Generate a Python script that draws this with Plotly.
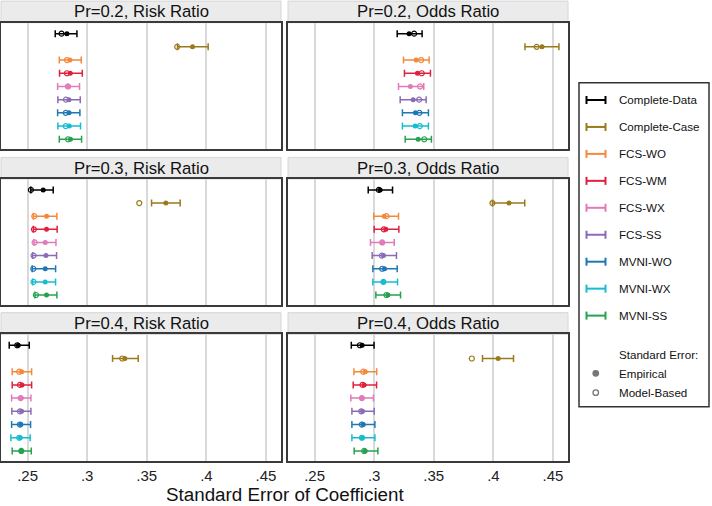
import plotly.graph_objects as go
from plotly.subplots import make_subplots

W, H = 712, 506

methods = ["Complete-Data", "Complete-Case", "FCS-WO", "FCS-WM", "FCS-WX",
           "FCS-SS", "MVNI-WO", "MVNI-WX", "MVNI-SS"]
colors = ["#000000", "#9b7a1c", "#f4893b", "#e0203f", "#e17ab8",
          "#8a6bb5", "#1f77b4", "#17bcd0", "#27a150"]

panel_titles = ["Pr=0.2, Risk Ratio", "Pr=0.2, Odds Ratio",
                "Pr=0.3, Risk Ratio", "Pr=0.3, Odds Ratio",
                "Pr=0.4, Risk Ratio", "Pr=0.4, Odds Ratio"]

tick_vals = [0.25, 0.30, 0.35, 0.40, 0.45]
tick_text = [".25", ".3", ".35", ".4", ".45"]

# empirical SE, MC interval (lo, hi), model-based SE -- one set per panel
rr02_emp = [.2830, .3884, .2855, .2858, .2843, .2847, .2848, .2850, .2860]
rr02_lo = [.2732, .3758, .2766, .2768, .2752, .2754, .2752, .2754, .2766]
rr02_hi = [.2914, .4015, .2950, .2959, .2936, .2942, .2939, .2944, .2953]
rr02_mod = [.2785, .3755, .2830, .2830, .2838, .2822, .2820, .2820, .2840]

or02_emp = [.3293, .4408, .3352, .3363, .3304, .3327, .3346, .3344, .3369]
or02_lo = [.3193, .4265, .3246, .3254, .3204, .3218, .3237, .3237, .3260]
or02_hi = [.3402, .4550, .3461, .3472, .3416, .3436, .3455, .3455, .3480]
or02_mod = [.3335, .4363, .3394, .3399, .3385, .3377, .3380, .3383, .3420]

rr03_emp = [.2631, .3660, .2659, .2659, .2648, .2654, .2648, .2648, .2659]
rr03_lo = [.2527, .3540, .2548, .2548, .2553, .2542, .2539, .2542, .2562]
rr03_hi = [.2715, .3780, .2746, .2748, .2738, .2743, .2735, .2735, .2746]
rr03_mod = [.2528, .3437, .2556, .2553, .2559, .2550, .2548, .2550, .2570]

or03_emp = [.3050, .4131, .3084, .3098, .3067, .3078, .3087, .3075, .3115]
or03_lo = [.2950, .3992, .2997, .3000, .2969, .2983, .2989, .2989, .3014]
or03_hi = [.3154, .4263, .3204, .3207, .3168, .3187, .3193, .3196, .3221]
or03_mod = [.3039, .3992, .3103, .3081, .3067, .3064, .3067, .3078, .3103]

rr04_emp = [.2422, .3316, .2450, .2453, .2447, .2450, .2444, .2438, .2450]
rr04_lo = [.2346, .3213, .2371, .2371, .2366, .2368, .2366, .2360, .2371]
rr04_hi = [.2514, .3428, .2534, .2534, .2528, .2528, .2525, .2522, .2531]
rr04_mod = [.2413, .3294, .2430, .2436, .2441, .2436, .2436, .2430, .2447]

or04_emp = [.2899, .4040, .2925, .2916, .2897, .2902, .2908, .2900, .2925]
or04_lo = [.2808, .3909, .2830, .2824, .2804, .2813, .2813, .2813, .2832]
or04_hi = [.2999, .4169, .3021, .3020, .2994, .3000, .3006, .3006, .3031]
or04_mod = [.2880, .3819, .2908, .2902, .2897, .2891, .2897, .2897, .2916]

panels = [
    (rr02_emp, rr02_lo, rr02_hi, rr02_mod),
    (or02_emp, or02_lo, or02_hi, or02_mod),
    (rr03_emp, rr03_lo, rr03_hi, rr03_mod),
    (or03_emp, or03_lo, or03_hi, or03_mod),
    (rr04_emp, rr04_lo, rr04_hi, rr04_mod),
    (or04_emp, or04_lo, or04_hi, or04_mod),
]

FONT = "Liberation Sans, Arial, Helvetica, sans-serif"

# pixel layout of panels
col_px = [(1, 281), (288, 568)]
row_px = [(22.7, 149.3), (179, 305), (334.3, 461)]
strip_h = 21.6


def px_x(x):
    return x / W


def px_y(y):
    return 1 - y / H


fig = make_subplots(rows=3, cols=2)

ypos = list(range(1, len(methods) + 1))

for p, (emp, lo, hi, mod) in enumerate(panels):
    r, c = p // 2 + 1, p % 2 + 1
    for i, m in enumerate(methods):
        # interval + empirical SE (filled dot)
        fig.add_trace(go.Scatter(
            x=[emp[i]], y=[ypos[i]], mode="markers",
            marker=dict(color=colors[i], size=5, symbol="circle"),
            error_x=dict(type="data", symmetric=False,
                         array=[hi[i] - emp[i]], arrayminus=[emp[i] - lo[i]],
                         color=colors[i], thickness=1.5, width=3.5),
            showlegend=False, hoverinfo="skip"), row=r, col=c)
        # model-based SE (hollow dot)
        fig.add_trace(go.Scatter(
            x=[mod[i]], y=[ypos[i]], mode="markers",
            marker=dict(color=colors[i], size=5, symbol="circle-open",
                        line=dict(width=1.2, color=colors[i])),
            showlegend=False, hoverinfo="skip"), row=r, col=c)

shapes = []
annotations = []
for p in range(6):
    r, c = p // 2, p % 2
    n = p + 1
    x0, x1 = col_px[c]
    y0, y1 = row_px[r]
    xa = "xaxis" if n == 1 else f"xaxis{n}"
    ya = "yaxis" if n == 1 else f"yaxis{n}"
    fig.layout[xa].update(
        domain=[px_x(x0), px_x(x1)], range=[0.2277, 0.4626],
        tickvals=tick_vals, ticktext=tick_text, showticklabels=(r == 2),
        showgrid=True, gridcolor="#d9d9d9", gridwidth=1.5, zeroline=False,
        showline=True, linecolor="#3a3a3a", linewidth=1.5, mirror=True,
        ticks="", tickfont=dict(family=FONT, size=15, color="#222"))
    fig.layout[ya].update(
        domain=[px_y(y1), px_y(y0)], range=[9.76, 0.17],
        showticklabels=False, showgrid=False, zeroline=False,
        showline=True, linecolor="#3a3a3a", linewidth=1.5, mirror=True, ticks="")
    # strip header
    shapes.append(dict(type="rect", xref="paper", yref="paper",
                       x0=px_x(x0), x1=px_x(x1), y0=px_y(y0), y1=px_y(y0 - strip_h),
                       fillcolor="#ebebeb", line=dict(color="#d6d6d6", width=1), layer="below"))
    annotations.append(dict(text=panel_titles[p], xref="paper", yref="paper",
                            x=px_x((x0 + x1) / 2), y=px_y(y0 - strip_h / 2),
                            xanchor="center", yanchor="middle", showarrow=False,
                            font=dict(family=FONT, size=16.7, color="#111")))

# x axis title
annotations.append(dict(text="Standard Error of Coefficient", xref="paper", yref="paper",
                        x=px_x(284.5), y=px_y(494.5), xanchor="center", yanchor="middle",
                        showarrow=False, font=dict(family=FONT, size=18.8, color="#111")))

# legend box drawn by hand
lx0, lx1, ly0, ly1 = 579, 709, 82.7, 406.7
shapes.append(dict(type="rect", xref="paper", yref="paper",
                   x0=px_x(lx0), x1=px_x(lx1), y0=px_y(ly1), y1=px_y(ly0),
                   fillcolor="white", line=dict(color="#333", width=1.5)))
for i, m in enumerate(methods):
    yy = 100 + i * 26.95
    shapes.append(dict(type="line", xref="paper", yref="paper",
                       x0=px_x(586.5), x1=px_x(605.5), y0=px_y(yy), y1=px_y(yy),
                       line=dict(color=colors[i], width=2)))
    for xe in (586.5, 605.5):
        shapes.append(dict(type="line", xref="paper", yref="paper",
                           x0=px_x(xe), x1=px_x(xe), y0=px_y(yy - 4), y1=px_y(yy + 4),
                           line=dict(color=colors[i], width=2)))
    annotations.append(dict(text=m, xref="paper", yref="paper", x=px_x(616.5), y=px_y(yy),
                            xanchor="left", yanchor="middle", showarrow=False,
                            font=dict(family=FONT, size=11.6, color="#111")))

annotations.append(dict(text="Standard Error:", xref="paper", yref="paper",
                        x=px_x(616.5), y=px_y(354.3), xanchor="left", yanchor="middle",
                        showarrow=False, font=dict(family=FONT, size=11.6, color="#111")))
for yy, lab, filled in [(373.3, "Empirical", True), (392.7, "Model-Based", False)]:
    shapes.append(dict(type="circle", xref="paper", yref="paper",
                       x0=px_x(593), x1=px_x(598.5), y0=px_y(yy + 2.75), y1=px_y(yy - 2.75),
                       fillcolor="#777777" if filled else "white",
                       line=dict(color="#777777", width=1.3)))
    annotations.append(dict(text=lab, xref="paper", yref="paper", x=px_x(616.5), y=px_y(yy),
                            xanchor="left", yanchor="middle", showarrow=False,
                            font=dict(family=FONT, size=11.6, color="#111")))

fig.update_layout(
    width=W, height=H,
    margin=dict(l=0, r=0, t=0, b=0),
    paper_bgcolor="white", plot_bgcolor="white",
    shapes=shapes, annotations=annotations,
    showlegend=False,
)

# drop the browser's default body margin so the figure sits at the page corner
fig.write_html("out.html", config={"displayModeBar": False},
               post_script="document.body.style.margin='0';")
